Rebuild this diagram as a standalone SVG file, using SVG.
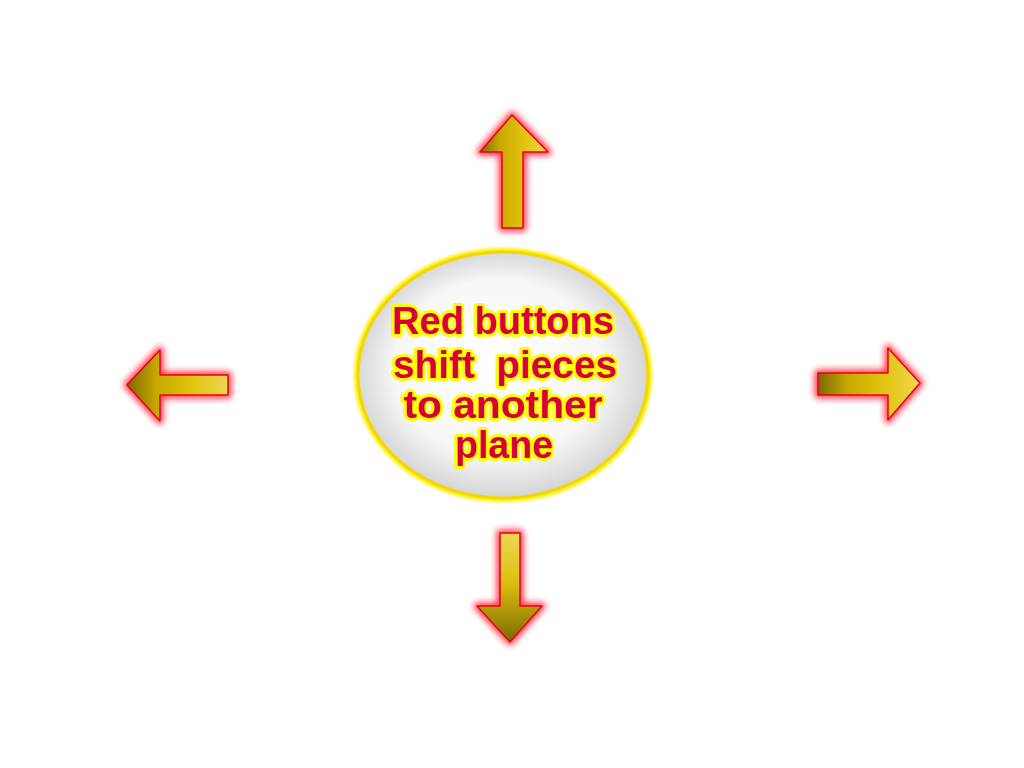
<svg xmlns="http://www.w3.org/2000/svg" width="1024" height="768" viewBox="0 0 1024 768">
  <defs>
    <linearGradient id="goldH" x1="0" y1="0" x2="1" y2="0">
      <stop offset="0" stop-color="#7d6a00"/>
      <stop offset="0.3" stop-color="#c9a900"/>
      <stop offset="0.65" stop-color="#e2c410"/>
      <stop offset="1" stop-color="#eed850"/>
    </linearGradient>
    <linearGradient id="goldV" x1="0" y1="0" x2="0" y2="1">
      <stop offset="0" stop-color="#eed850"/>
      <stop offset="0.45" stop-color="#dcc010"/>
      <stop offset="1" stop-color="#7d6a00"/>
    </linearGradient>
    <radialGradient id="silver" cx="0.5" cy="0.5" r="0.55" fx="0.45" fy="0.42">
      <stop offset="0" stop-color="#ffffff"/>
      <stop offset="0.65" stop-color="#f7f7f7"/>
      <stop offset="0.88" stop-color="#dadada"/>
      <stop offset="1" stop-color="#c6c6c6"/>
    </radialGradient>
    <filter id="glow" x="-30%" y="-30%" width="160%" height="160%">
      <feGaussianBlur stdDeviation="3"/>
    </filter>
    <filter id="yglow" x="-10%" y="-10%" width="120%" height="120%">
      <feGaussianBlur stdDeviation="1.5"/>
    </filter>
  </defs>
  <style>
    .halo { fill: #ff1a2a; stroke: #ff1a2a; stroke-width: 7; stroke-linejoin: round; filter: url(#glow); opacity: 0.85; }
    .body { stroke: #e8001c; stroke-width: 1.5; stroke-linejoin: round; }
    .lbl { font-family: "Liberation Sans", Arial, sans-serif; font-weight: bold; font-size: 38px; fill: #d6003a; stroke: #ffff00; stroke-width: 6; stroke-linejoin: round; paint-order: stroke; text-anchor: middle; white-space: pre; }
  </style>
  <rect width="1024" height="768" fill="#ffffff"/>

  <g id="arrows">
    <g id="arrow-up">
      <path class="halo" d="M512,115 L548,152 L523,152 L523,228 L502,228 L502,152 L480,152 Z"/>
      <path class="body" fill="url(#goldH)" d="M512,115 L548,152 L523,152 L523,228 L502,228 L502,152 L480,152 Z"/>
    </g>
    <g id="arrow-left">
      <path class="halo" d="M127,385 L160,350 L160,375 L228,375 L228,395 L160,395 L160,421 Z"/>
      <path class="body" fill="url(#goldH)" d="M127,385 L160,350 L160,375 L228,375 L228,395 L160,395 L160,421 Z"/>
    </g>
    <g id="arrow-right">
      <path class="halo" d="M920,383 L888,348 L888,373 L818,373 L818,395 L888,395 L888,420 Z"/>
      <path class="body" fill="url(#goldH)" d="M920,383 L888,348 L888,373 L818,373 L818,395 L888,395 L888,420 Z"/>
    </g>
    <g id="arrow-down">
      <path class="halo" d="M510,642 L542,606 L520,606 L520,533 L500,533 L500,606 L477,606 Z"/>
      <path class="body" fill="url(#goldV)" d="M510,642 L542,606 L520,606 L520,533 L500,533 L500,606 L477,606 Z"/>
    </g>
  </g>

  <g id="center-node">
    <ellipse cx="503" cy="375" rx="146" ry="124" fill="none" stroke="#ffee00" stroke-width="6" filter="url(#yglow)"/>
    <ellipse cx="503" cy="375" rx="145" ry="123" fill="url(#silver)" stroke="#f2d800" stroke-width="3"/>
    <text class="lbl" x="503" y="334" textLength="222" lengthAdjust="spacingAndGlyphs">Red buttons</text>
    <text class="lbl" x="505" y="378" textLength="224" lengthAdjust="spacingAndGlyphs">shift  pieces</text>
    <text class="lbl" x="503" y="418" textLength="199" lengthAdjust="spacingAndGlyphs">to another</text>
    <text class="lbl" x="504" y="458" textLength="98" lengthAdjust="spacingAndGlyphs">plane</text>
  </g>
</svg>
